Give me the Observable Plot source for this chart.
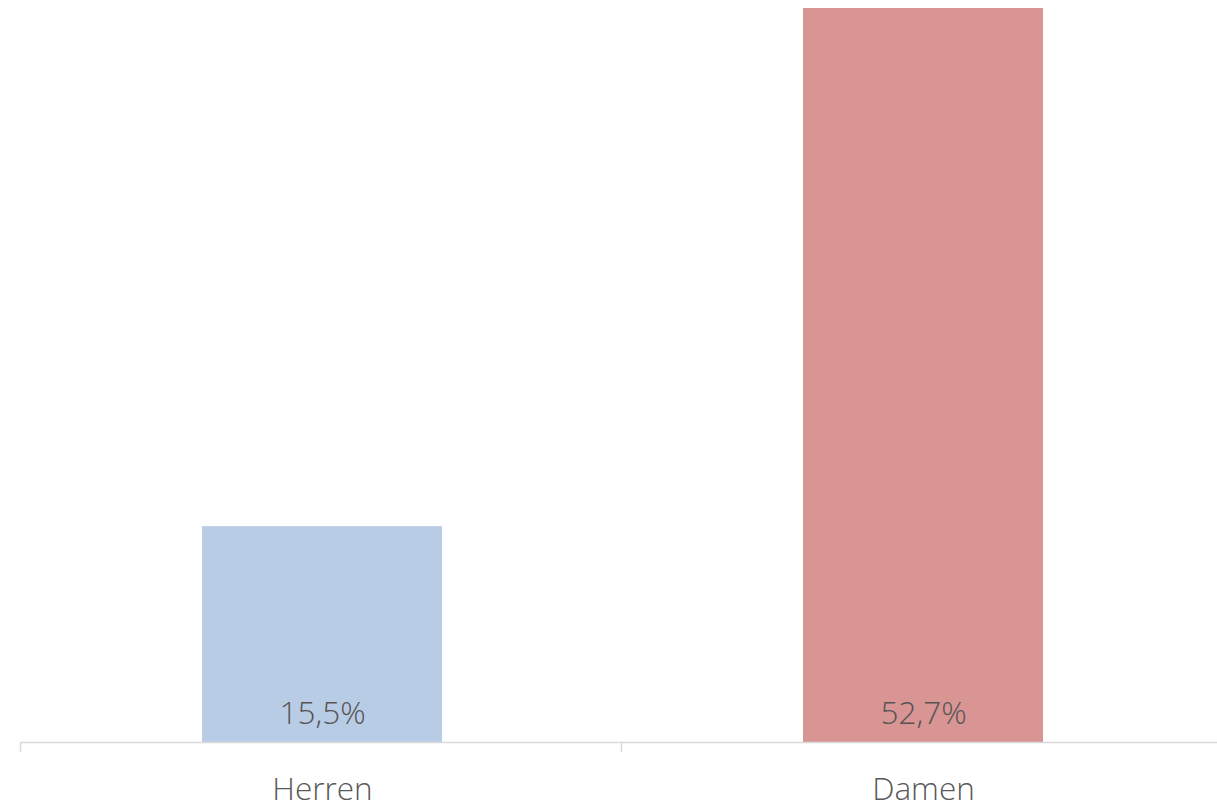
<!DOCTYPE html>
<html>
<head>
<meta charset="utf-8">
<script src="https://cdn.jsdelivr.net/npm/d3@7"></script>
<script src="https://cdn.jsdelivr.net/npm/@observablehq/plot@0.6"></script>
<style>
  html, body { margin: 0; padding: 0; background: #fff; }
  #chart svg { display: block; }
</style>
</head>
<body>
<div id="chart"></div>
<script>
const categories = ["Herren", "Damen"];
const values = [15.5, 52.7];
const colors = ["#b9cce5", "#d99594"];
const valueLabels = ["15,5%", "52,7%"];

const data = categories.map((c, i) => ({category: c, value: values[i], color: colors[i], label: valueLabels[i]}));

const chart = Plot.plot({
  width: 1217,
  height: 806,
  marginLeft: 21,
  marginRight: 0,
  marginTop: 8,
  marginBottom: 64,
  style: {fontFamily: "'Open Sans', sans-serif", background: "#fff"},
  x: {domain: categories, range: [22, 1224], paddingInner: 0.6, paddingOuter: 0.3, axis: null},
  y: {domain: [0, 52.7], axis: null},
  marks: [
    Plot.barY(data, {x: "category", y: "value", fill: "color"}),
    Plot.ruleY([0], {stroke: "#d9d9d9", strokeWidth: 1.5}),
    Plot.text(data, {x: "category", y: 0, text: "label", lineAnchor: "bottom", dy: -19, fill: "#555", fontSize: 31.5, fontWeight: 300}),
    Plot.text(data, {x: "category", y: 0, text: "category", lineAnchor: "bottom", dy: 57, fill: "#595959", fontSize: 31.5, fontWeight: 300})
  ]
});

// tick marks at band boundaries, positioned from the library's x scale
const xs = chart.scale("x");
const ys = chart.scale("y");
const svg = d3.select(chart);
const y0 = ys.apply(0);
const boundaries = categories.map(c => xs.apply(c) - (xs.step - xs.bandwidth) / 2 - 1);
boundaries.push(xs.apply(categories[categories.length - 1]) + xs.bandwidth + (xs.step - xs.bandwidth) / 2);
svg.append("g")
  .attr("stroke", "#d9d9d9")
  .attr("stroke-width", 1.5)
  .selectAll("line")
  .data(boundaries)
  .join("line")
  .attr("x1", d => d).attr("x2", d => d)
  .attr("y1", y0).attr("y2", y0 + 10);

document.getElementById("chart").appendChild(chart);
</script>
</body>
</html>
